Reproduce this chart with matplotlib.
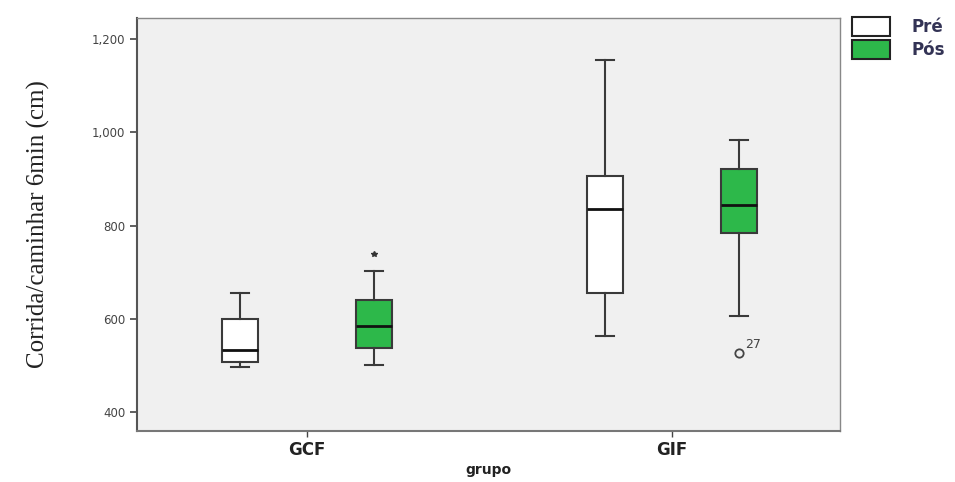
import matplotlib.pyplot as plt
from matplotlib.patches import Patch
from matplotlib.ticker import FuncFormatter

# values (cm)
grupos = ["GCF", "GIF"]
momentos = ["Pré", "Pós"]
whis_lo = [[496, 500], [562, 606]]
q1 = [[508, 537], [656, 784]]
med = [[533, 584], [836, 844]]
q3 = [[600, 640], [907, 922]]
whis_hi = [[655, 703], [1156, 983]]
extremos = [[[], [739]], [[], []]]      # drawn as *
outliers = [[[], []], [[], [526]]]      # drawn as o
outlier_ids = [[[], []], [[], ["27"]]]

cores = ["white", "#2db84a"]
offset = 0.184
width = 0.098

fig = plt.figure(figsize=(9.55, 4.82), dpi=100)
ax = fig.add_axes([0.1435, 0.106, 0.736, 0.857])
ax.set_facecolor("#f0f0f0")

for g in range(len(grupos)):
    for m in range(len(momentos)):
        pos = g + 1 + (offset if m else -offset)
        st = dict(med=med[g][m], q1=q1[g][m], q3=q3[g][m],
                  whislo=whis_lo[g][m], whishi=whis_hi[g][m], fliers=[])
        ax.bxp([st], positions=[pos], widths=width, patch_artist=True,
               showfliers=False,
               boxprops=dict(facecolor=cores[m], edgecolor="#3a3a3a", linewidth=1.5),
               medianprops=dict(color="#111111", linewidth=2),
               whiskerprops=dict(color="#3a3a3a", linewidth=1.5),
               capprops=dict(color="#3a3a3a", linewidth=1.5),
               capwidths=width * 0.5)
        for v in extremos[g][m]:
            ax.plot(pos, v, marker="*", ms=4, color="#333333", ls="none")
        for v, lab in zip(outliers[g][m], outlier_ids[g][m]):
            ax.plot(pos, v, marker="o", ms=6, mfc="none", mec="#444444", mew=1.3, ls="none")
            ax.annotate(lab, (pos, v), xytext=(4, 4), textcoords="offset points",
                        fontsize=9, color="#444444")

ax.set_xlim(0.534, 2.46)
ax.set_ylim(359, 1246)
ax.set_yticks([400, 600, 800, 1000, 1200])
ax.yaxis.set_major_formatter(FuncFormatter(lambda v, p: f"{int(v):,}"))
ax.set_xticks([1, 2])
ax.set_xticklabels(grupos, fontweight="bold", fontsize=12)
ax.tick_params(axis="y", labelsize=8.5, colors="#444444", length=5, width=1.2)
ax.tick_params(axis="x", length=4, width=1, colors="#444444", pad=3)
for lab in ax.get_xticklabels():
    lab.set_color("#222222")
for s in ax.spines.values():
    s.set_color("#888888")
    s.set_linewidth(1)
ax.spines["left"].set_color("#555555")
ax.spines["left"].set_linewidth(1.5)
ax.spines["bottom"].set_color("#777777")
ax.spines["bottom"].set_linewidth(1.5)

ax.set_xlabel("grupo", fontweight="bold", fontsize=10, color="#222222", labelpad=3)
ax.set_ylabel("Corrida/caminhar 6min (cm)", family="Liberation Serif", fontsize=18,
              color="#222222", labelpad=30)

handles = [Patch(facecolor=c, edgecolor="#222222", linewidth=1.5) for c in cores]
leg = fig.legend(handles, momentos, loc="upper left", bbox_to_anchor=(0.892, 0.965),
                 frameon=False, prop=dict(weight="bold", size=12), handlelength=2.3,
                 handleheight=1.35, labelspacing=0.25, handletextpad=1.3,
                 borderpad=0, borderaxespad=0)
for t in leg.get_texts():
    t.set_color("#333355")

fig.savefig("out.png", dpi=100)
